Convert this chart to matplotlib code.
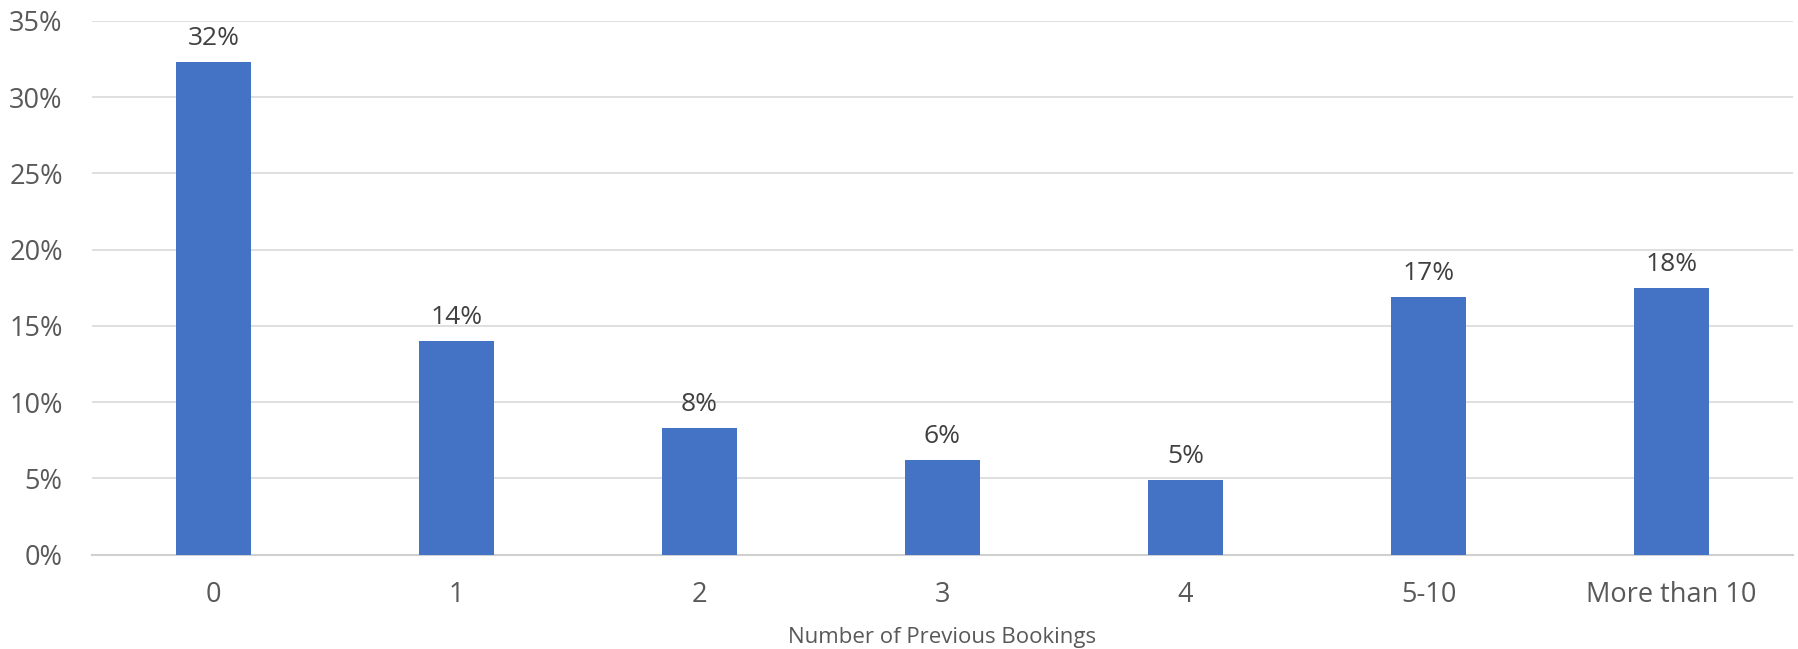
import matplotlib
matplotlib.use('Agg')
import matplotlib.pyplot as plt
import matplotlib.ticker as tkr
import numpy as np

#----------------------datos----------------------------
categorias = ['0', '1', '2', '3', '4', '5-10', 'More than 10']
valores = [32.3, 14.0, 8.3, 6.2, 4.9, 16.9, 17.5]
etiquetas = ['32%', '14%', '8%', '6%', '5%', '17%', '18%']
yticks = [0, 5, 10, 15, 20, 25, 30, 35]

#---------------------estilo----------------------------
plt.rcParams['font.family'] = ['Open Sans', 'DejaVu Sans']

fig = plt.figure(figsize=(17.99, 6.49), dpi=100)
ax = fig.add_axes([0.0511, 0.1453, 0.9456, 0.8227])

x = np.arange(len(categorias))
ax.bar(x, valores, width=0.31, color='#4472C4', zorder=3)

# etiquetas de datos sobre las barras
for xi, v, t in zip(x, valores, etiquetas):
    ax.text(xi, v + 1.1, t, ha='center', va='baseline', fontsize=19, color='#404040')

ax.set_xlim(-0.5, len(categorias) - 0.5)
ax.set_ylim(0, 35)
ax.set_yticks(yticks)
ax.yaxis.set_major_formatter(tkr.FuncFormatter(lambda v, p: '%d%%' % v))
ax.set_xticks(x)
ax.set_xticklabels(categorias)
ax.tick_params(axis='both', length=0, labelsize=19.5, labelcolor='#595959')
ax.tick_params(axis='x', pad=19)
ax.tick_params(axis='y', pad=21)

ax.grid(axis='y', color='#d9d9d9', linewidth=1.2, zorder=0)
for s in ['top', 'right', 'left']:
    ax.spines[s].set_visible(False)
ax.spines['bottom'].set_color('#d0d0d0')
ax.spines['bottom'].set_linewidth(1.5)

ax.set_xlabel('Number of Previous Bookings', fontsize=16, color='#595959')
ax.xaxis.label.set_va('baseline')
ax.xaxis.set_label_coords(0.5, -0.1654)

plt.savefig('out.png', dpi=100)
plt.close(fig)
